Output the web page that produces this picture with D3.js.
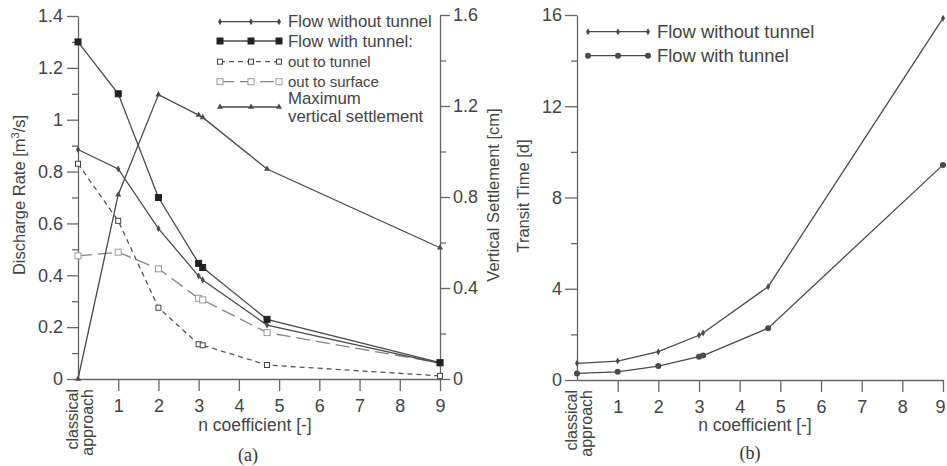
<!DOCTYPE html>
<html>
<head>
<meta charset="utf-8">
<script src="https://cdn.jsdelivr.net/npm/d3@7"></script>
<style>
  body { margin: 0; background: #fff; }
  svg { display: block; font-family: "Liberation Sans", Arial, sans-serif; }
  .axis path, .axis line { stroke: #666; stroke-width: 1.3; }
  .axis text { fill: #444; font-size: 18px; font-family: "Liberation Sans", Arial, sans-serif; }
</style>
</head>
<body>
<script>
// n coefficient values (0 = classical approach)
const nValues = [0, 1, 2, 3, 3.1, 4.7, 9];

// (a) discharge rate [m3/s]
const withoutTunnelQ = [0.885, 0.81, 0.58, 0.397, 0.382, 0.208, 0.06];
const withTunnelQ = [1.30, 1.10, 0.70, 0.446, 0.43, 0.23, 0.063];
const outToTunnelQ = [0.83, 0.61, 0.275, 0.134, 0.13, 0.054, 0.012];
const outToSurfaceQ = [0.475, 0.489, 0.425, 0.311, 0.305, 0.179, 0.062];
// (a) maximum vertical settlement [cm]
const settlement = [0, 0.81, 1.25, 1.16, 1.15, 0.923, 0.577];

// (b) transit time [d]
const transitWithout = [0.73, 0.83, 1.24, 1.96, 2.06, 4.09, 15.86];
const transitWith = [0.29, 0.36, 0.61, 1.02, 1.07, 2.27, 9.43];

// ticks
const xTicks = [1, 2, 3, 4, 5, 6, 7, 8, 9];
const qTicks = [0, 0.2, 0.4, 0.6, 0.8, 1, 1.2, 1.4];
const qMinor = [0.1, 0.3, 0.5, 0.7, 0.9, 1.1, 1.3];
const sTicks = [0, 0.4, 0.8, 1.2, 1.6];
const sMinor = [0.2, 0.6, 1.0, 1.4];
const tTicks = [0, 4, 8, 12, 16];
const tMinor = [2, 6, 10, 14];

const W = 947, H = 466;
const svg = d3.select('body').append('svg').attr('width', W).attr('height', H);

const fmt = d => String(+d.toFixed(2));
const lineCol = '#4a4a4a';

function diamond(g, x, y) {
    g.append('path').attr('d', d3.symbol(d3.symbolDiamond, 14)())
        .attr('transform', `translate(${x},${y})`).attr('fill', lineCol);
}
function square(g, x, y, fill, stroke, size) {
    g.append('rect').attr('x', x - size / 2).attr('y', y - size / 2)
        .attr('width', size).attr('height', size)
        .attr('fill', fill).attr('stroke', stroke).attr('stroke-width', 1);
}
function triangle(g, x, y) {
    g.append('path').attr('d', d3.symbol(d3.symbolTriangle, 16)())
        .attr('transform', `translate(${x},${y})`).attr('fill', lineCol);
}
function circle(g, x, y) {
    g.append('circle').attr('cx', x).attr('cy', y).attr('r', 3).attr('fill', lineCol);
}

function drawSeries(g, xs, ys, vals, opts) {
    const pts = nValues.map((n, i) => [xs(n), ys(vals[i])]);
    g.append('path').attr('d', d3.line()(pts)).attr('fill', 'none')
        .attr('stroke', opts.color || lineCol).attr('stroke-width', 1.3)
        .attr('stroke-dasharray', opts.dash || null);
    pts.forEach(p => opts.marker(g, p[0], p[1]));
}

function xAxisFor(x0, x1, y0) {
    const x = d3.scaleLinear().domain([0, 9]).range([x0, x1]);
    const ax = svg.append('g').attr('class', 'axis').attr('transform', `translate(0,${y0})`)
        .call(d3.axisBottom(x).tickValues(xTicks).tickSize(12).tickPadding(8).tickSizeOuter(0));
    // keep the last label inside the window
    ax.selectAll('.tick text').filter(d => x(d) > W - 8).attr('text-anchor', 'end').attr('dx', 2);
    // classical approach label
    const lab = svg.append('text').attr('transform', `translate(${x0},${y0 + 10}) rotate(-90)`)
        .attr('text-anchor', 'end').attr('fill', '#444').attr('font-size', 16);
    lab.append('tspan').attr('x', 0).attr('dy', 0).text('classical');
    lab.append('tspan').attr('x', 0).attr('dy', 15).text('approach');
    return x;
}

// ---------- (a) ----------
const ya = d3.scaleLinear().domain([0, 1.4]).range([379, 16]);
const ys = d3.scaleLinear().domain([0, 1.6]).range([379, 15]);
const xa = xAxisFor(78, 440, 379);

svg.append('g').attr('class', 'axis').attr('transform', 'translate(78,0)')
    .call(d3.axisLeft(ya).tickValues(qTicks).tickFormat(fmt).tickSize(11).tickPadding(4).tickSizeOuter(0));
svg.append('g').attr('class', 'axis').attr('transform', 'translate(78,0)')
    .call(d3.axisLeft(ya).tickValues(qMinor).tickFormat('').tickSize(6).tickSizeOuter(0))
    .select('.domain').remove();
svg.append('g').attr('class', 'axis').attr('transform', 'translate(440,0)')
    .call(d3.axisRight(ys).tickValues(sTicks).tickFormat(fmt).tickSize(10).tickPadding(3).tickSizeOuter(0));
svg.append('g').attr('class', 'axis').attr('transform', 'translate(440,0)')
    .call(d3.axisRight(ys).tickValues(sMinor).tickFormat('').tickSize(6).tickSizeOuter(0))
    .select('.domain').remove();

const ga = svg.append('g');
drawSeries(ga, xa, ya, outToSurfaceQ, { color: '#858585', dash: '14,6', marker: (g, x, y) => square(g, x, y, '#fff', '#999', 6) });
drawSeries(ga, xa, ya, outToTunnelQ, { color: '#555', dash: '5,4', marker: (g, x, y) => square(g, x, y, '#fff', '#444', 5) });
drawSeries(ga, xa, ya, withoutTunnelQ, { marker: diamond });
drawSeries(ga, xa, ya, withTunnelQ, { marker: (g, x, y) => square(g, x, y, '#222', '#222', 6) });
drawSeries(ga, xa, ys, settlement, { marker: triangle });

// axis titles (a)
svg.append('text').attr('transform', 'translate(25,195) rotate(-90)').attr('text-anchor', 'middle')
    .attr('fill', '#444').attr('font-size', 16.5)
    .html('Discharge Rate [m<tspan dy="-6" font-size="11">3</tspan><tspan dy="6">/s]</tspan>');
svg.append('text').attr('transform', 'translate(499,195) rotate(-90)').attr('text-anchor', 'middle')
    .attr('fill', '#444').attr('font-size', 16.5).text('Vertical Settlement [cm]');
svg.append('text').attr('x', 255).attr('y', 431).attr('text-anchor', 'middle')
    .attr('fill', '#444').attr('font-size', 17.5).text('n coefficient [-]');
svg.append('text').attr('x', 248).attr('y', 461).attr('text-anchor', 'middle')
    .attr('fill', '#333').attr('font-size', 18).attr('font-family', '"Liberation Serif", "Times New Roman", serif').text('(a)');

// legend (a)
const la = svg.append('g');
const legA = [
    { y: 21.7, text: ['Flow without tunnel'], fs: 16.8, color: lineCol, dash: null, marker: diamond },
    { y: 41, text: ['Flow with tunnel:'], fs: 16.8, color: lineCol, dash: null, marker: (g, x, y) => square(g, x, y, '#222', '#222', 6) },
    { y: 61.7, text: ['out to tunnel'], fs: 15, color: '#555', dash: '5,4', marker: (g, x, y) => square(g, x, y, '#fff', '#444', 5) },
    { y: 81.7, text: ['out to surface'], fs: 15, color: '#858585', dash: '14,6', marker: (g, x, y) => square(g, x, y, '#fff', '#999', 6) },
    { y: 107, text: ['Maximum', 'vertical settlement'], fs: 16.8, color: lineCol, dash: null, marker: triangle }
];
legA.forEach(r => {
    la.append('line').attr('x1', 220).attr('x2', 279).attr('y1', r.y).attr('y2', r.y)
        .attr('stroke', r.color).attr('stroke-width', 1.3).attr('stroke-dasharray', r.dash);
    [220, 251, 279].forEach(x => r.marker(la, x, r.y));
    if (r.text.length === 1) {
        la.append('text').attr('x', 288).attr('y', r.y + 5.5).attr('fill', '#444')
            .attr('font-size', r.fs).text(r.text[0]);
    } else {
        la.append('text').attr('x', 288).attr('y', 103.5).attr('fill', '#444').attr('font-size', r.fs).text(r.text[0]);
        la.append('text').attr('x', 288).attr('y', 122).attr('fill', '#444').attr('font-size', r.fs).text(r.text[1]);
    }
});

// ---------- (b) ----------
const yb = d3.scaleLinear().domain([0, 16]).range([380, 15]);
const xb = xAxisFor(577, 943, 380);

svg.append('g').attr('class', 'axis').attr('transform', 'translate(577,0)')
    .call(d3.axisLeft(yb).tickValues(tTicks).tickFormat(fmt).tickSize(12).tickPadding(3).tickSizeOuter(0));
svg.append('g').attr('class', 'axis').attr('transform', 'translate(577,0)')
    .call(d3.axisLeft(yb).tickValues(tMinor).tickFormat('').tickSize(6).tickSizeOuter(0))
    .select('.domain').remove();

const gb = svg.append('g');
drawSeries(gb, xb, yb, transitWithout, { marker: diamond });
drawSeries(gb, xb, yb, transitWith, { marker: circle });

svg.append('text').attr('transform', 'translate(529,196) rotate(-90)').attr('text-anchor', 'middle')
    .attr('fill', '#444').attr('font-size', 16.5).text('Transit Time [d]');
svg.append('text').attr('x', 755).attr('y', 431).attr('text-anchor', 'middle')
    .attr('fill', '#444').attr('font-size', 17.5).text('n coefficient [-]');
svg.append('text').attr('x', 750).attr('y', 459).attr('text-anchor', 'middle')
    .attr('fill', '#333').attr('font-size', 18).attr('font-family', '"Liberation Serif", "Times New Roman", serif').text('(b)');

const lb = svg.append('g');
[{ y: 31.7, text: 'Flow without tunnel', marker: diamond },
 { y: 55.7, text: 'Flow with tunnel', marker: circle }].forEach(r => {
    lb.append('line').attr('x1', 588).attr('x2', 648).attr('y1', r.y).attr('y2', r.y)
        .attr('stroke', lineCol).attr('stroke-width', 1.3);
    [588, 618, 648].forEach(x => r.marker(lb, x, r.y));
    lb.append('text').attr('x', 657).attr('y', r.y + 6).attr('fill', '#444').attr('font-size', 18.4).text(r.text);
});
</script>
</body>
</html>
